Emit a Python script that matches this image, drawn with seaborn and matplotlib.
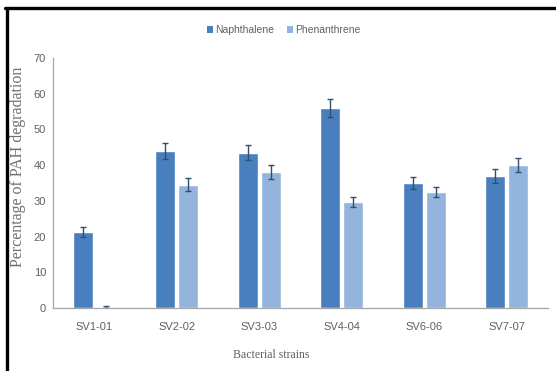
import matplotlib
matplotlib.use("Agg")
import matplotlib.pyplot as plt
from matplotlib.lines import Line2D
from matplotlib.patches import Patch
import numpy as np
import pandas as pd
import seaborn as sns

# Data: percentage of PAH degradation per bacterial strain
strains = ["SV1-01", "SV2-02", "SV3-03", "SV4-04", "SV6-06", "SV7-07"]
naphthalene = [21.3, 44.0, 43.5, 56.0, 35.0, 37.0]
phenanthrene = [0.3, 34.5, 38.0, 29.7, 32.5, 40.0]
naphthalene_err = [1.5, 2.2, 2.0, 2.5, 1.8, 2.0]
phenanthrene_err = [0.2, 1.8, 2.0, 1.5, 1.5, 2.0]
series = ["Naphthalene", "Phenanthrene"]
yticks = [0, 10, 20, 30, 40, 50, 60, 70]

colors = ["#4a7fbf", "#93b4dd"]
text_gray = "#606060"
narrow = ["Liberation Sans Narrow", "Liberation Sans", "DejaVu Sans"]
serif = ["Liberation Serif", "DejaVu Serif"]

df = pd.DataFrame({
    "Strain": strains * 2,
    "Compound": [series[0]] * len(strains) + [series[1]] * len(strains),
    "Value": naphthalene + phenanthrene,
    "Err": naphthalene_err + phenanthrene_err,
})

sns.set_style("white")
fig = plt.figure(figsize=(5.56, 3.71), dpi=100)
ax = fig.add_axes([0.0953, 0.1698, 0.8903, 0.6739])

sns.barplot(data=df, x="Strain", y="Value", hue="Compound", order=strains,
            hue_order=series, palette=colors, width=0.56, gap=0.12,
            errorbar=None, legend=False, ax=ax, saturation=1)

# Error bars placed on each bar's centre
for patch, (_, row) in zip(ax.patches, df.iterrows()):
    cx = patch.get_x() + patch.get_width() / 2
    ax.errorbar(cx, patch.get_height(), yerr=row["Err"], fmt="none",
                ecolor="#2f4f6f", elinewidth=1.0, capsize=2.5, capthick=1.0)

ax.set_ylim(0, 70)
ax.set_xlim(-0.5, len(strains) - 0.5)
ax.set_yticks(yticks)
ax.set_yticklabels([str(t) for t in yticks], family=narrow, fontsize=8,
                   color=text_gray)
ax.set_xticks(range(len(strains)))
ax.set_xticklabels(strains, family=narrow, fontsize=8, color=text_gray)
ax.tick_params(axis="both", length=0, pad=5)
ax.tick_params(axis="x", pad=10)

for side in ["top", "right"]:
    ax.spines[side].set_visible(False)
for side in ["left", "bottom"]:
    ax.spines[side].set_color("#a6a6a6")
    ax.spines[side].set_linewidth(0.9)

ax.set_xlabel("Bacterial strains", family=serif, fontsize=8.5,
              color=text_gray)
ax.xaxis.set_label_coords(0.44, -0.162)
ax.set_ylabel("Percentage of PAH degradation", family=serif, fontsize=11.5,
              color="#707070")
ax.yaxis.set_label_coords(-0.054, 0.565)

handles = [Patch(facecolor=c, edgecolor="none") for c in colors]
fig.legend(handles, series, loc="center", bbox_to_anchor=(0.51, 0.918),
           ncol=2, frameon=False, prop={"family": narrow, "size": 7.5},
           labelcolor=text_gray, handlelength=0.6, handleheight=0.6,
           handletextpad=0.2, columnspacing=1.2)

# Frame lines along the top and left edge of the figure
fig.add_artist(Line2D([6.5 / 556, 6.5 / 556], [0, 1 - 7.5 / 371],
                      transform=fig.transFigure, color="black", linewidth=2.4))
fig.add_artist(Line2D([5.3 / 556, 1], [1 - 7.5 / 371, 1 - 7.5 / 371],
                      transform=fig.transFigure, color="black", linewidth=2.4))

fig.savefig("out.png", dpi=100)
